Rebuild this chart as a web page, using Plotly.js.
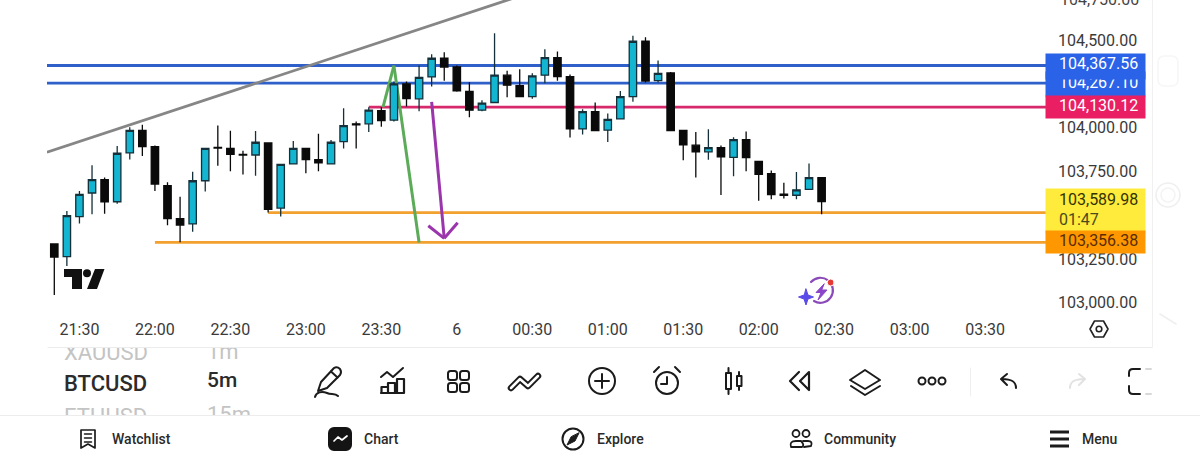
<!DOCTYPE html>
<html><head><meta charset="utf-8">
<script src="https://cdn.plot.ly/plotly-3.0.1.min.js"></script>
<style>
html,body{margin:0;padding:0;background:#fff;width:1200px;height:464px;overflow:hidden;font-family:Roboto,sans-serif}
#chart{position:absolute;left:0;top:0;width:1200px;height:464px}
#chrome{position:absolute;left:0;top:0;width:1200px;height:464px;pointer-events:none}
.t{position:absolute;white-space:nowrap;line-height:1;font-family:Roboto,sans-serif}
.nav{font-size:14px;font-weight:500;color:#2a2a2a;top:432px}
.sym{font-size:22px;font-weight:500;color:#2b2b2b}
.fade{color:#c4c4c4;font-weight:400}
.clipA{position:absolute;left:0;top:348px;width:300px;height:14px;overflow:hidden}
.clipB{position:absolute;left:0;top:402px;width:300px;height:13px;overflow:hidden}
svg.ic{position:absolute;left:0;top:0}
</style></head><body>
<div id="chart"></div>
<div id="chrome">
<svg class="ic" width="1200" height="464" fill="none" stroke="#1b1b1b" stroke-width="2" stroke-linecap="round" stroke-linejoin="round">
  <path d="M1152.5 0V347" stroke="#f0f0f0" stroke-width="1"/>
  <path d="M48 347.5H1152" stroke="#ececec" stroke-width="1"/>
  <path d="M0 415.5H1200" stroke="#ececec" stroke-width="1"/>
  <path d="M970.5 368V396" stroke="#efefef" stroke-width="1"/>
  <rect x="1158" y="56" width="20" height="30" rx="6" stroke="#f6f6f6" stroke-width="1.5"/>
  <circle cx="1168" cy="195" r="12" stroke="#efefef" stroke-width="1.5"/>
  <circle cx="1168" cy="195" r="7" stroke="#f3f3f3" stroke-width="1.5"/>
  <path d="M1160 314L1176 324" stroke="#efefef" stroke-width="1.5"/>
  <path d="M1090 329L1094.5 321H1103.5L1108 329L1103.5 337H1094.5Z" stroke="#222" stroke-width="1.6"/>
  <circle cx="1099" cy="329" r="2.8" stroke="#222" stroke-width="1.6"/>
  <g fill="#111" stroke="none">
    <path d="M64 269H82V289H72V277H64Z"/>
    <circle cx="87" cy="273.300" r="4"/>
    <path d="M95 269H104.500L97 289H87Z"/>
  </g>
  <path d="M811 282A12.500 12.500 0 1 1 814 301" stroke="#8a4bb8" stroke-width="2.200"/>
  <path d="M824 284L816 292.500H821L818 300L827 290H822Z" fill="#8a45c8" stroke="#8a45c8" stroke-width="1"/>
  <path d="M806 289L808 295L813.500 297L808 299L806 305L804 299L798.500 297L804 295Z" fill="#5b4be8" stroke="#5b4be8" stroke-width="1"/>
  <circle cx="830.700" cy="282.500" r="3.500" fill="#e53935" stroke="#fff" stroke-width="1"/>
  <path d="M318 391L321 382L334 368Q337 366 340 369Q342 372 340 375L327 388Z"/>
  <path d="M331 371.500L337.500 377.500"/>
  <path d="M315 397C316 392 322 391 327 393C331 395 335 393 338 396"/>
  <path d="M381 377L387 372L393 377L403 368"/>
  <path d="M381.500 393V387H388V393ZM388 393V383H395V393ZM397 393V379H404V393ZM381 393H404" stroke-width="2.200"/>
  <rect x="448" y="371" width="9" height="9" rx="2.500"/><rect x="460" y="371" width="9" height="9" rx="2.500"/><rect x="448" y="383" width="9" height="9" rx="2.500"/><rect x="460" y="383" width="9" height="9" rx="2.500"/>
  <path d="M511 388L520 379L528 386L538 376" stroke-width="6.500"/>
  <path d="M511 388L520 379L528 386L538 376" stroke="#fff" stroke-width="2.500"/>
  <circle cx="602" cy="381" r="13"/><path d="M602 374V388M595 381H609"/>
  <circle cx="667" cy="383" r="11"/><path d="M667 377V384H661M654 372L659 367M680 372L675 367"/>
  <rect x="726" y="373" width="5" height="16"/><path d="M728.500 368V373M728.500 389V394"/><rect x="737" y="376" width="4.500" height="10"/><path d="M739 372V376M739 386V390"/>
  <path d="M799 372L790 381L799 390M809 372L800 381L809 390Z" stroke-width="2.200"/>
  <path d="M865 370L880 380L865 389L850 380Z"/><path d="M851 386L865 395L880 386"/>
  <circle cx="922" cy="381" r="3.500"/><circle cx="932" cy="381" r="3.500"/><circle cx="942" cy="381" r="3.500"/>
  <path d="M1016 388C1016 381 1011 379 1002 379M1007 374L1001 379L1007 385"/>
  <path d="M1070 388C1070 381 1075 379 1084 379M1079 374L1085 379L1079 385" stroke="#e2e2e2"/>
  <path d="M1140 369H1133Q1129 369 1129 373V376M1129 386V390Q1129 394 1133 394H1140"/>
  <path d="M1146 369H1151M1146 394H1151" stroke="#d8d8d8"/>
  <path d="M81 430H95V448L88 444L81 448Z" stroke-width="1.700"/><path d="M84.500 434H91.500M84.500 438H91.500M84.500 442H91.500" stroke-width="1.500"/>
  <rect x="329" y="428" width="22" height="22" rx="5" fill="#141414" stroke="#141414"/><path d="M334 441L338 437L342 440L347 436" stroke="#fff" stroke-width="1.700"/>
  <circle cx="573" cy="439" r="10.500"/><path d="M579 433L575 441L567 445L571 437Z" fill="#1b1b1b" stroke-width="1"/>
  <circle cx="796" cy="433.500" r="3.500" stroke-width="1.800"/><circle cx="806" cy="433.500" r="3.500" stroke-width="1.800"/><path d="M791 447Q789 441 796 441H801Q805 445 802 447Z" stroke-width="1.800"/><path d="M803 441H808Q813 441 811 446L804 447" stroke-width="1.800"/>
  <path d="M1050 432H1069M1050 439H1069M1050 446H1069" stroke-width="2.800" stroke-linecap="butt"/>
</svg>
<div class="clipA"><span class="t sym fade" style="left:64px;top:-6px">XAUUSD</span><span class="t sym fade" style="left:207px;top:-7px">1m</span></div>
<div class="t sym" style="left:64px;top:373px">BTCUSD</div>
<div class="t sym" style="left:207px;top:370px;font-size:21px">5m</div>
<div class="clipB"><span class="t sym fade" style="left:64px;top:4px">ETHUSD</span><span class="t sym fade" style="left:207px;top:2px">15m</span></div>
<div class="t nav" style="left:112px">Watchlist</div>
<div class="t nav" style="left:364px">Chart</div>
<div class="t nav" style="left:597px">Explore</div>
<div class="t nav" style="left:824px">Community</div>
<div class="t nav" style="left:1082px">Menu</div>
</div>
<script>
const times = ['21:20','21:25','21:30','21:35','21:40','21:45','21:50','21:55','22:00','22:05','22:10','22:15','22:20','22:25','22:30','22:35','22:40','22:45','22:50','22:55','23:00','23:05','23:10','23:15','23:20','23:25','23:30','23:35','23:40','23:45','23:50','23:55','00:00','00:05','00:10','00:15','00:20','00:25','00:30','00:35','00:40','00:45','00:50','00:55','01:00','01:05','01:10','01:15','01:20','01:25','01:30','01:35','01:40','01:45','01:50','01:55','02:00','02:05','02:10','02:15','02:20','02:25'];
const opens = [103348,103275,103504,103639,103715,103589,103868,103997,103904,103681,103492,103462,103709,103900,103894,103860,103856,103925,103553,103805,103894,103830,103805,103933,104034,104034,104110,104055,104262,104177,104302,104409,104359,104220,104112,104156,104312,104253,104190,104312,104413,104304,104005,104104,103998,104062,104190,104506,104281,104325,103996,103912,103874,103898,103843,103944,103820,103750,103632,103626,103660,103727];
const highs = [103348,103536,103650,103797,103728,103908,104014,104029,103911,103700,103618,103761,103894,104024,103995,103881,103993,103925,103803,103936,103894,103977,103942,104123,104047,104129,104129,104276,104276,104367,104432,104443,104367,104272,104169,104552,104337,104346,104323,104460,104447,104316,104118,104156,104093,104222,104537,104529,104396,104331,103996,103988,104003,103910,103958,103990,103820,103767,103698,103759,103807,103727];
const lows = [103056,103222,103464,103517,103521,103578,103830,103851,103650,103454,103357,103418,103648,103795,103763,103744,103738,103527,103504,103805,103752,103763,103805,103893,103893,103988,104018,104047,104133,104106,104247,104281,104218,104072,104106,104156,104186,104190,104178,104266,104281,103956,103973,103996,103931,104062,104161,104270,104270,103996,103826,103727,103829,103628,103735,103763,103594,103603,103607,103603,103660,103517];
const closes = [103273,103510,103631,103715,103589,103866,103997,103904,103690,103492,103456,103709,103894,103896,103860,103856,103929,103546,103803,103894,103830,103811,103929,104024,104028,104112,104053,104262,104178,104300,104409,104359,104222,104112,104152,104312,104255,104190,104308,104413,104304,104005,104104,103996,104060,104190,104506,104279,104323,103996,103914,103874,103898,103845,103944,103841,103746,103630,103626,103657,103727,103589.98];

const tickTimes = ['21:30','22:00','22:30','23:00','23:30','00:00','00:30','01:00','01:30','02:00','02:30','03:00','03:30'];
const tickLabels = ['21:30','22:00','22:30','23:00','23:30','6','00:30','01:00','01:30','02:00','02:30','03:00','03:30'];
const priceTicks = [104500,104250,104000,103750,103500,103250,103000];

const levelPrices = [104367.56,104267.10,104130.12,103527,103356.38];
const levelStarts = ['21:17','21:17','23:25','22:45','22:00'];
const levelColors = ['#2f5fc9','#2f5fc9','#d8286c','#f2a12e','#f2a12e'];

const trendTimes = ['21:17:06','00:23'];
const trendPrices = [103871.6,104755];
const greenTimes = ['23:30:40','23:35','23:45'];
const greenPrices = [104130,104367,103356];
const arrowTimes = ['23:50','23:55'];
const arrowPrices = [104160,103380];
const headTimes = ['23:48:40','23:55','00:00:20'];
const headPrices = [103452,103380,103469];

const d = t => (parseInt(t) >= 12 ? '2025-06-05 ' : '2025-06-06 ') + t;
const fmt = v => v.toLocaleString('en-US',{minimumFractionDigits:2,maximumFractionDigits:2});

function polyline(ts, ps, color, width){
  const out=[];
  for(let i=0;i<ts.length-1;i++) out.push({type:'line',layer:'below',xref:'x',yref:'y',x0:d(ts[i]),x1:d(ts[i+1]),y0:ps[i],y1:ps[i+1],line:{color,width}});
  return out;
}
const shapes = [];
levelPrices.forEach((p,i)=>shapes.push(...polyline([levelStarts[i],'03:55'],[p,p],levelColors[i],2.8)));
shapes.push(...polyline(trendTimes,trendPrices,'#868686',2.8));
shapes.push(...polyline(greenTimes,greenPrices,'#5cab59',3));
shapes.push(...polyline(arrowTimes,arrowPrices,'#9a35ab',3));
shapes.push(...polyline(headTimes,headPrices,'#9a35ab',3));

const annotations=[];
const font = (color)=>({family:'Roboto, sans-serif',size:16,color});
function box(price,bg,h,yshift){
  annotations.push({xref:'paper',yref:'y',x:1,y:price,xanchor:'left',yanchor:'middle',xshift:-1,yshift:yshift||0,text:'&nbsp;',showarrow:false,width:99,height:h,bgcolor:bg,borderpad:0,font:font(bg)});
}
function label(price,text,color,yshift){
  annotations.push({xref:'paper',yref:'y',x:1,y:price,xanchor:'left',yanchor:'middle',xshift:12,yshift:yshift||0,text,showarrow:false,font:font(color),borderpad:0});
}
box(levelPrices[1],'#2a62e8',24,-1); label(levelPrices[1],fmt(levelPrices[1]),'#ffffff',1);
box(levelPrices[0],'#2a62e8',25,-1); label(levelPrices[0],fmt(levelPrices[0]),'#ffffff',2);
box(levelPrices[2],'#e91e63',22,0); label(levelPrices[2],fmt(levelPrices[2]),'#ffffff',2);
box(closes[closes.length-1],'#ffeb3b',44,-9.500); label(closes[closes.length-1],fmt(closes[closes.length-1]),'#333300',2); label(closes[closes.length-1],'01:47','#4a4a20',-18);
box(levelPrices[4],'#ff9800',22,0); label(levelPrices[4],fmt(levelPrices[4]),'#5a2c00',2);
annotations.push({xref:'paper',yref:'paper',x:1,y:1,xanchor:'left',yanchor:'middle',xshift:12,yshift:1,text:'104,750.00',showarrow:false,font:font('#444')});

const trace = {
  type:'candlestick', x:times.map(d), open:opens, high:highs, low:lows, close:closes,
  increasing:{line:{color:'#14303a',width:1.3},fillcolor:'#13b5d1'},
  decreasing:{line:{color:'#0a0a0a',width:1.3},fillcolor:'#0a0a0a'},
  whiskerwidth:0, hoverinfo:'none', showlegend:false
};
const layout = {
  width:1200,height:464,margin:{l:47,r:154,t:0,b:148,pad:0},boxgap:0.16,
  paper_bgcolor:'#fff',plot_bgcolor:'#fff',showlegend:false,dragmode:false,
  xaxis:{type:'date',range:[d('21:17:06'),d('03:54:12')],rangeslider:{visible:false},showgrid:false,zeroline:false,showline:false,ticks:'',
    tickmode:'array',tickvals:tickTimes.map(d),ticktext:tickLabels,tickangle:0,ticklabelstandoff:2,tickfont:{family:'Roboto, sans-serif',size:16,color:'#3a3a3a'}},
  yaxis:{side:'right',range:[102936.1,104741.86],showgrid:false,zeroline:false,showline:false,ticks:'',
    tickmode:'array',tickvals:priceTicks,ticktext:priceTicks.map(fmt),ticklabelstandoff:11,ticklabelshift:-2,tickfont:{family:'Roboto, sans-serif',size:16,color:'#3a3a3a'}},
  shapes,annotations
};
Plotly.newPlot('chart',[trace],layout,{displayModeBar:false,staticPlot:true,responsive:false});
</script>
</body></html>
